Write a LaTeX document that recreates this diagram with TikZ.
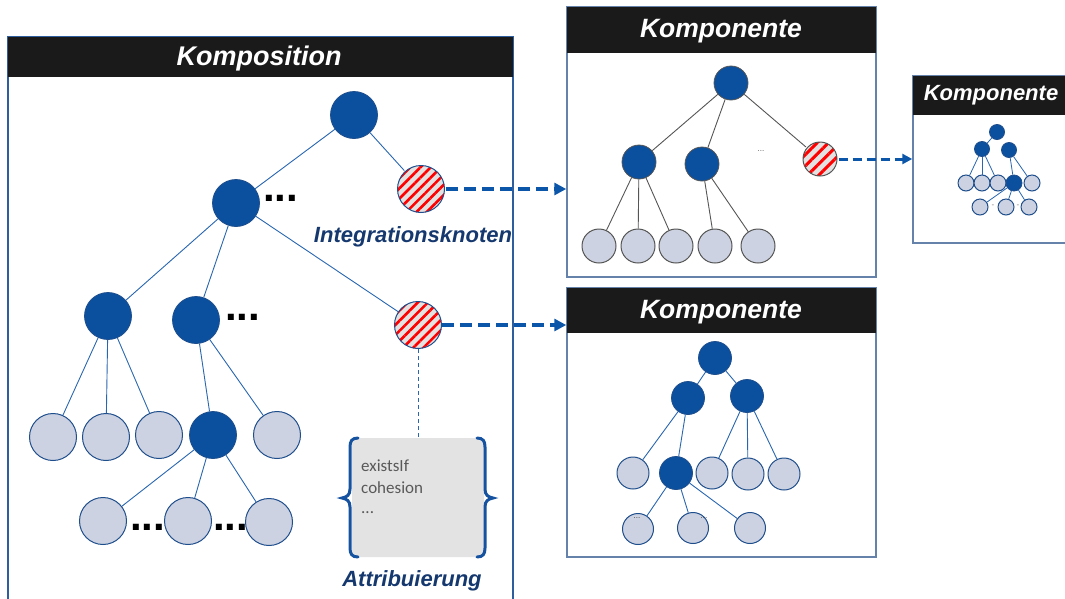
\documentclass[tikz,border=0pt]{standalone}
\usepackage{fontspec}
\setmainfont{Liberation Sans}
\newfontfamily\attrfont{Carlito}
\usetikzlibrary{arrows.meta,patterns.meta}

\definecolor{nodeblue}{HTML}{0A509F}
\definecolor{edgeblue}{HTML}{2866B0}
\definecolor{leaffill}{HTML}{CCD2E1}
\definecolor{leafborder}{HTML}{1F4E8C}
\definecolor{kompborder}{HTML}{2E5E9E}
\definecolor{compborder}{HTML}{6482AA}
\definecolor{titlebg}{HTML}{1A1A1A}
\definecolor{labelnavy}{HTML}{15386E}
\definecolor{arrowblue}{HTML}{0B56A8}
\definecolor{attrbg}{HTML}{E3E3E3}
\definecolor{attrtext}{HTML}{595959}
\definecolor{braceblue}{HTML}{1552A0}
\definecolor{hatchbg}{HTML}{E2E2E2}
\definecolor{greyedge}{HTML}{555555}

\tikzset{
  body/.style={draw, rectangle, inner sep=0pt},
  titlebar/.style={rectangle, fill=titlebg, inner sep=0pt, text=white,
    font=\bfseries\itshape},
  dnode/.style={circle, inner sep=0pt, fill=nodeblue, draw=leafborder, line width=0.8pt},
  lnode/.style={circle, inner sep=0pt, fill=leaffill, draw=leafborder, line width=1pt},
  hnode/.style={circle, inner sep=0pt, draw=leafborder, line width=1pt,
    preaction={fill=hatchbg},
    pattern={Lines[angle=45,distance=7.2pt,line width=2.6pt]}, pattern color=red},
  big/.style={minimum size=47pt},
  mid/.style={minimum size=34pt},
  tiny/.style={minimum size=15pt, line width=0.9pt},
  edge/.style={draw=edgeblue, line width=0.9pt},
  greyline/.style={draw=greyedge, line width=0.9pt},
  bigarrow/.style={draw=arrowblue, line width=4pt, dash pattern=on 12pt off 6pt,
    -{Triangle[length=12pt,width=12pt]}},
  smallarrow/.style={draw=arrowblue, line width=3pt, dash pattern=on 9pt off 5pt,
    -{Triangle[length=10pt,width=10pt]}},
  lbl/.style={text=labelnavy, font=\fontsize{22}{24}\selectfont\bfseries\itshape, inner sep=0pt},
  bigdots/.style={font=\fontsize{42}{42}\selectfont\bfseries, inner sep=0pt},
  smalldots/.style={font=\fontsize{8}{8}\selectfont, text=greyedge, inner sep=0pt},
  attrline/.style={font=\attrfont\fontsize{17}{20}\selectfont, text=attrtext, inner sep=0pt},
  brace/.style={draw=braceblue, line width=3pt, line cap=round},
  titletext/.style={text=white, inner sep=0pt, anchor=base}
}

\begin{document}
\begin{tikzpicture}[x=1pt,y=-1pt]
\useasboundingbox (0,0) rectangle (1065,598);

% ---------- frames and title bars ----------
\node[body, draw=kompborder, line width=1.2pt, minimum width=505pt, minimum height=573pt]
  (komp) at (260.5,323.5) {};
\node[titlebar, minimum width=505pt, minimum height=40pt] (kompT) at (260.5,57) {};
\node[titletext, font=\fontsize{27}{30}\selectfont\bfseries\itshape] (kompL) at (259,65) {Komposition};

\node[body, draw=compborder, line width=1.5pt, minimum width=309pt, minimum height=270pt]
  (k1) at (721.5,142) {};
\node[titlebar, minimum width=309pt, minimum height=46pt] (k1T) at (721.5,30) {};
\node[titletext, font=\fontsize{26.5}{30}\selectfont\bfseries\itshape] (k1L) at (721,37) {Komponente};

\node[body, draw=compborder, line width=1.5pt, minimum width=309pt, minimum height=269pt]
  (k2) at (721.5,422.5) {};
\node[titlebar, minimum width=309pt, minimum height=45pt] (k2T) at (721.5,310.5) {};
\node[titletext, font=\fontsize{26.5}{30}\selectfont\bfseries\itshape] (k2L) at (721,318) {Komponente};

\node[body, draw=compborder, line width=1.5pt, minimum width=157pt, minimum height=167pt]
  (k3) at (991.5,159.5) {};
\node[titlebar, minimum width=157pt, minimum height=39pt] (k3T) at (991.5,95.5) {};
\node[titletext, font=\fontsize{22}{24}\selectfont\bfseries\itshape] (k3L) at (991,100) {Komponente};

% ---------- composition tree ----------
\node[dnode, big] (r0) at (354,115) {};
\node[dnode, big] (m1) at (236,203) {};
\node[hnode, big] (h1) at (421,189) {};
\node[dnode, big] (a1) at (108,316) {};
\node[dnode, big] (b1) at (196,320) {};
\node[hnode, big] (h2) at (418,325) {};
\node[lnode, big] (l1) at (53,437) {};
\node[lnode, big] (l2) at (106,437) {};
\node[lnode, big] (l3) at (159,435) {};
\node[dnode, big] (d1) at (213,435) {};
\node[lnode, big] (l4) at (277,435) {};
\node[lnode, big] (q1) at (103,521) {};
\node[lnode, big] (q2) at (188,521) {};
\node[lnode, big] (q3) at (269,522) {};

\foreach \u/\v in {r0/m1, r0/h1, m1/a1, m1/b1, m1/h2, a1/l1, a1/l2, a1/l3,
                   b1/d1, b1/l4, d1/q1, d1/q2, d1/q3}
  \draw[edge] (\u) -- (\v);

\node[bigdots, anchor=base west] (dotsA) at (263,201) {...};
\node[bigdots, anchor=base west] (dotsB) at (225,320) {...};
\node[bigdots, anchor=base west] (dotsC) at (130,530) {...};
\node[bigdots, anchor=base west] (dotsD) at (213,530) {...};

\node[lbl, anchor=base] (intlab) at (413,242) {Integrationsknoten};

% ---------- attribute box ----------
\node[rectangle, fill=attrbg, rounded corners=4pt, minimum width=132pt, minimum height=119pt, inner sep=0pt]
  (attr) at (418,497.5) {};
\draw[edge, line width=0.8pt, dash pattern=on 4pt off 3pt] (h2.south) -- (h2.south |- attr.north);
\draw[brace] (358,438) .. controls (352,438) and (350,441) .. (350,447) -- (350,489)
  .. controls (350,495) and (347,497) .. (342,498)
  .. controls (347,499) and (350,501) .. (350,507) -- (350,548)
  .. controls (350,554) and (352,557) .. (358,557);
\draw[brace] (477,438) .. controls (483,438) and (485,441) .. (485,447) -- (485,489)
  .. controls (485,495) and (488,497) .. (493,498)
  .. controls (488,499) and (485,501) .. (485,507) -- (485,548)
  .. controls (485,554) and (483,557) .. (477,557);
\node[attrline, anchor=base west] (attr1) at (361,471) {existsIf};
\node[attrline, anchor=base west] (attr2) at (361,493) {cohesion};
\node[attrline, anchor=base west] (attr3) at (361,513) {...};
\node[lbl, anchor=base] (attlab) at (412,586) {Attribuierung};

% ---------- first component ----------
\node[dnode, mid, draw=greyedge] (c0) at (731,83) {};
\node[dnode, mid, draw=greyedge] (c1) at (639,162) {};
\node[dnode, mid, draw=greyedge] (c2) at (702,164) {};
\node[hnode, mid, draw=greyedge, pattern={Lines[angle=45,distance=8pt,line width=3pt]}] (ch) at (820,159) {};
\node[lnode, mid, draw=greyedge] (c3) at (599,246) {};
\node[lnode, mid, draw=greyedge] (c4) at (638,246) {};
\node[lnode, mid, draw=greyedge] (c5) at (676,246) {};
\node[lnode, mid, draw=greyedge] (c6) at (715,246) {};
\node[lnode, mid, draw=greyedge] (c7) at (758,246) {};
\foreach \u/\v in {c0/c1, c0/c2, c0/ch, c1/c3, c1/c4, c1/c5, c2/c6, c2/c7}
  \draw[greyline] (\u) -- (\v);
\node[smalldots] (cdots) at (761,151) {...};

% ---------- second component ----------
\node[dnode, minimum size=33pt] (e0) at (715,358) {};
\node[dnode, minimum size=33pt] (e1) at (688,398) {};
\node[dnode, minimum size=33pt] (e2) at (747,396) {};
\node[lnode, minimum size=32pt] (e3) at (633,473) {};
\node[dnode, minimum size=33pt] (e4) at (676,473) {};
\node[lnode, minimum size=32pt] (e5) at (712,473) {};
\node[lnode, minimum size=32pt] (e6) at (748,474) {};
\node[lnode, minimum size=32pt] (e7) at (784,474) {};
\node[lnode, minimum size=31pt] (e8) at (638,529) {};
\node[lnode, minimum size=31pt] (e9) at (693,528) {};
\node[lnode, minimum size=31pt] (e10) at (750,528) {};
\foreach \u/\v in {e0/e1, e0/e2, e1/e3, e1/e4, e2/e5, e2/e6, e2/e7, e4/e8, e4/e9, e4/e10}
  \draw[edge] (\u) -- (\v);
\node[smalldots, text=black!75] (edotsA) at (637,518) {...};
\node[smalldots, text=black!75] (edotsB) at (704,518) {...};

% ---------- third component ----------
\node[dnode, tiny] (f0) at (997,132) {};
\node[dnode, tiny] (f1) at (982,149) {};
\node[dnode, tiny] (f2) at (1009,150) {};
\node[lnode, minimum size=16pt] (f3) at (966,183) {};
\node[lnode, minimum size=16pt] (f4) at (982,183) {};
\node[lnode, minimum size=16pt] (f5) at (998,183) {};
\node[dnode, minimum size=16pt] (f6) at (1014,183) {};
\node[lnode, minimum size=16pt] (f7) at (1032,183) {};
\node[lnode, minimum size=16pt] (f8) at (980,207) {};
\node[lnode, minimum size=16pt] (f9) at (1006,207) {};
\node[lnode, minimum size=16pt] (f10) at (1029,207) {};
\foreach \u/\v in {f0/f1, f1/f3, f1/f4, f1/f5, f2/f6, f2/f7, f6/f8, f6/f9, f6/f10}
  \draw[edge, line width=0.8pt] (\u) -- (\v);
\node[smalldots, text=gray] (fdotsA) at (993,206) {-};
\node[smalldots, text=gray] (fdotsB) at (1018,206) {-};

% ---------- links between integration nodes and components ----------
\draw[bigarrow] (h1.east) -- (h1.east -| k1.west);
\draw[bigarrow] (h2.east) -- (h2.east -| k2.west);
\draw[smallarrow] (ch.east) -- (ch.east -| k3.west);

\end{tikzpicture}
\end{document}
